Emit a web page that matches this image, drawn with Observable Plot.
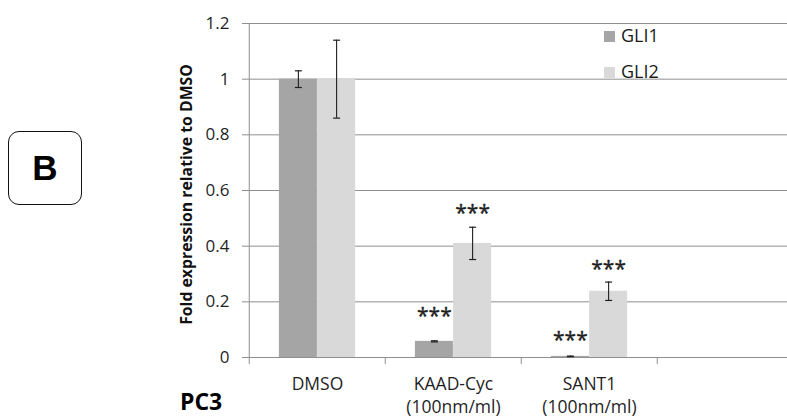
<!DOCTYPE html>
<html>
<head>
<meta charset="utf-8">
<script src="https://cdn.jsdelivr.net/npm/d3@7"></script>
<script src="https://cdn.jsdelivr.net/npm/@observablehq/plot@0.6"></script>
<style>
  html, body { margin: 0; padding: 0; background: #fff; overflow: hidden; }
  #wrap { position: relative; width: 787px; height: 419px; font-family: "Open Sans", sans-serif; }
  #wrap svg { position: absolute; left: 0; top: 0; overflow: visible; }
  .ov { position: absolute; color: #1a1a1a; white-space: nowrap; }
</style>
</head>
<body>
<div id="wrap"></div>
<script>
// ---- data ----
const categories = ["DMSO", "KAAD-Cyc\n(100nm/ml)", "SANT1\n(100nm/ml)"];
const xSlots = [...categories, " "];
const series = ["GLI1", "GLI2"];
const seriesColors = ["#a5a5a5", "#d9d9d9"];
const gli1Values = [1.0, 0.058, 0.004];
const gli1Errors = [0.03, 0.002, 0.001];
const gli2Values = [1.0, 0.41, 0.238];
const gli2Errors = [0.14, 0.058, 0.033];
const gli1Stars = ["", "***", "***"];
const gli1StarY = [null, 0.165, 0.08];
const gli2Stars = ["", "***", "***"];
const gli2StarY = [null, 0.535, 0.334];
const yTicks = [0, 0.2, 0.4, 0.6, 0.8, 1, 1.2];
const yTitle = "Fold expression relative to DMSO";
const panelLabel = "B";
const cellLine = "PC3";

const values = [gli1Values, gli2Values];
const errors = [gli1Errors, gli2Errors];
const stars = [gli1Stars, gli2Stars];
const starYs = [gli1StarY, gli2StarY];

const grid = "#8f8f8f";
const ink = "#1f1f1f";
const step = (794 - 248) / xSlots.length;
const pad = 0.72;
const half = step * (1 - pad) / 2;

// custom horizontal cap symbol
const capSymbol = {
  draw(ctx, size) {
    const w = Math.sqrt(size / Math.PI);
    ctx.moveTo(-w, 0);
    ctx.lineTo(w, 0);
  }
};

const marks = [
  Plot.ruleY(yTicks, {stroke: grid, strokeWidth: 1}),
  Plot.axisY({ticks: yTicks, tickSize: 6, tickPadding: 13, stroke: grid, fill: ink, fontSize: 17, label: null, tickFormat: d => String(d)}),
  Plot.ruleX([xSlots[0]], {x: d => d, dx: -step / 2, y1: 0, y2: 1.2, stroke: grid}),
  Plot.axisX({ticks: xSlots, tickSize: 7, dx: -step / 2, tickFormat: () => "", stroke: grid, label: null}),
  Plot.axisX({ticks: xSlots, tickSize: 0, tickPadding: 15, fontSize: 17.5, lineHeight: 1.37, fill: ink, label: null}),
  Plot.text([yTitle], {frameAnchor: "left", textAnchor: "middle", dx: -62, dy: 4, rotate: -90, fontWeight: "bold", fontSize: 15.8, fill: "#111"})
];

series.forEach((s, i) => {
  const rows = categories.map((c, j) => ({cat: c, v: values[i][j], e: errors[i][j], star: stars[i][j], sy: starYs[i][j]}));
  const dx = (i === 0 ? -1 : 1) * half;
  marks.push(
    Plot.barY(rows, {x: "cat", y: "v", fill: seriesColors[i], dx}),
    Plot.ruleX(rows, {x: "cat", y1: d => d.v - d.e, y2: d => d.v + d.e, stroke: ink, strokeWidth: 1.1, dx}),
    Plot.dot(rows, {x: "cat", y: d => d.v + d.e, symbol: capSymbol, r: 3.5, stroke: ink, strokeWidth: 1.2, dx}),
    Plot.dot(rows, {x: "cat", y: d => d.v - d.e, symbol: capSymbol, r: 3.5, stroke: ink, strokeWidth: 1.2, dx}),
    Plot.text(rows.filter(d => d.star), {x: "cat", y: "sy", text: "star", fontSize: 21, fill: ink, dx, dy: 5, stroke: ink, strokeWidth: 0.4})
  );
});

const chart = Plot.plot({
  width: 787,
  height: 419,
  marginLeft: 248,
  marginRight: 0,
  marginTop: 23,
  marginBottom: 62,
  style: {fontFamily: "Open Sans, sans-serif", background: "transparent", overflow: "visible"},
  x: {domain: xSlots, range: [248, 794], paddingInner: pad, paddingOuter: pad / 2},
  y: {domain: [0, 1.2], range: [357, 23]},
  marks
});

const wrap = document.getElementById("wrap");
wrap.appendChild(chart);

// legend (inside plot area)
const wrapSel = d3.select(wrap);
const legendTops = [31, 67];
series.forEach((s, i) => {
  wrapSel.append("div").attr("class", "ov")
    .style("left", "604px").style("top", legendTops[i] + "px")
    .style("width", "11px").style("height", "11px").style("background", seriesColors[i]);
  wrapSel.append("div").attr("class", "ov")
    .style("left", "621px").style("top", (legendTops[i] - 8) + "px")
    .style("font-size", "18px").style("line-height", "25px")
    .text(s);
});

// panel label box
wrapSel.append("div").attr("class", "ov")
  .style("left", "8px").style("top", "131px").style("width", "72px").style("height", "72px")
  .style("border", "1.6px solid #111").style("border-radius", "11px")
  .style("display", "flex").style("align-items", "center").style("justify-content", "center")
  .style("font-family", "'Liberation Sans', Arial, sans-serif").style("font-weight", "bold")
  .style("font-size", "35px").style("color", "#000")
  .text(panelLabel);

// cell line label
wrapSel.append("div").attr("class", "ov")
  .style("left", "180px").style("top", "386px")
  .style("font-size", "23px").style("font-weight", "bold").style("line-height", "30px").style("color", "#000")
  .text(cellLine);
</script>
</body>
</html>
